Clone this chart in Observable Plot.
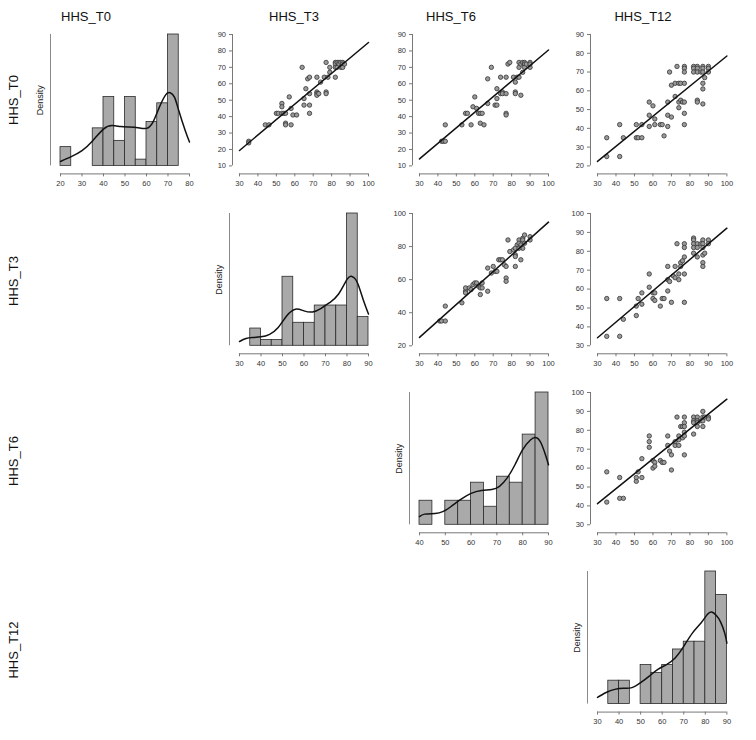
<!DOCTYPE html>
<html><head><meta charset="utf-8">
<script src="https://cdn.jsdelivr.net/npm/d3@7"></script>
<script src="https://cdn.jsdelivr.net/npm/@observablehq/plot@0.6"></script>
<style>
body{margin:0;background:#fff;}
#chart{position:relative;width:756px;height:740px;font-family:"Liberation Sans",Arial,sans-serif;overflow:hidden;}
.lbl{position:absolute;font-size:13px;color:#111;white-space:nowrap;line-height:1;}
</style></head><body><div id="chart"></div>
<script>
// ---------- data ----------
const variables = ["HHS_T0", "HHS_T3", "HHS_T6", "HHS_T12"];

// histogram bin lower edges (width 5) and counts
const binsT0 = [20, 25, 30, 35, 40, 45, 50, 55, 60, 65, 70];
const countsT0 = [3, 0, 0, 6, 11, 4, 11, 1, 7, 10, 21];
const binsT3 = [35, 40, 45, 50, 55, 60, 65, 70, 75, 80, 85];
const countsT3 = [3, 1, 1, 12, 4, 4, 7, 7, 7, 23, 5];
const binsT6 = [40, 45, 50, 55, 60, 65, 70, 75, 80, 85];
const countsT6 = [4, 0, 4, 4, 7, 3, 8, 7, 15, 22];
const binsT12 = [35, 40, 45, 50, 55, 60, 65, 70, 75, 80, 85];
const countsT12 = [3, 3, 0, 5, 4, 5, 7, 8, 8, 17, 14];
const binWidth = 5;

// kernel density curves
const densT0X = [20, 25, 30, 35, 40, 44, 48, 52, 56, 60, 63, 66, 69, 71, 73, 75, 78, 80];
const densT0Y = [0.0019, 0.0040, 0.0066, 0.0109, 0.0159, 0.0174, 0.0170, 0.0168, 0.0165, 0.0162, 0.0189, 0.0254, 0.0308, 0.0316, 0.0297, 0.0239, 0.0153, 0.0103];
const densT3X = [30, 33, 36, 40, 44, 48, 52, 56, 60, 64, 68, 72, 76, 80, 82, 84, 86, 88, 90];
const densT3Y = [0.0020, 0.0034, 0.0039, 0.0042, 0.0054, 0.0086, 0.0141, 0.0172, 0.0164, 0.0159, 0.0176, 0.0203, 0.0242, 0.0312, 0.0327, 0.0312, 0.0265, 0.0203, 0.0149];
const densT6X = [40, 42, 46, 49, 52, 56, 60, 64, 68, 71, 74, 77, 80, 83, 85, 87, 89, 90];
const densT6Y = [0.0037, 0.0048, 0.0051, 0.0059, 0.0080, 0.0114, 0.0141, 0.0154, 0.0159, 0.0173, 0.0211, 0.0270, 0.0338, 0.0381, 0.0392, 0.0370, 0.0308, 0.0270];
const densT12X = [30, 34, 38, 42, 46, 50, 54, 58, 62, 66, 70, 74, 78, 81, 83, 85, 87, 89, 90];
const densT12Y = [0.0023, 0.0040, 0.0051, 0.0055, 0.0057, 0.0074, 0.0097, 0.0120, 0.0137, 0.0160, 0.0200, 0.0246, 0.0281, 0.0311, 0.0319, 0.0308, 0.0286, 0.0246, 0.0211];

// scatter points [x (column variable), y (row variable)]
const t3_t0 = [[35,25],[35,24],[44,35],[46,35],[50,42],[51,42],[53,48],[53,46],[53,42],[54,42],[55,42],[55,36],[55,35],[57,52],[58,45],[58,35],[59,41],[61,41],[64,70],[65,51],[65,47],[66,57],[67,63],[68,64],[68,54],[68,47],[68,42],[72,64],[72,55],[72,54],[72,53],[73,54],[74,61],[76,64],[77,73],[77,55],[77,54],[78,64],[79,70],[79,67],[82,64],[82,73],[82,72],[82,70],[83,73],[83,70],[84,73],[84,72],[85,70],[85,73],[86,73],[86,72],[86,70],[87,72]];
const t6_t0 = [[42,25],[43,25],[44,25],[44,35],[53,35],[55,42],[56,42],[58,35],[59,46],[60,52],[61,45],[62,42],[63,42],[64,42],[63,36],[65,35],[67,48],[67,63],[69,70],[71,47],[72,47],[72,51],[72,57],[74,64],[74,54],[75,55],[75,54],[77,54],[77,64],[77,42],[77,41],[78,72],[79,73],[81,64],[82,61],[82,55],[82,54],[83,64],[84,64],[85,53],[84,73],[84,70],[85,72],[86,73],[86,67],[87,73],[87,72],[87,70],[88,72],[90,73],[90,70],[90,72]];
const t12_t0 = [[35,35],[35,25],[42,42],[42,25],[44,35],[51,42],[51,35],[52,35],[54,35],[54,42],[58,54],[58,47],[58,41],[60,52],[61,45],[61,42],[64,42],[65,42],[66,36],[68,41],[68,47],[68,54],[69,70],[70,46],[70,63],[72,64],[72,57],[73,73],[74,64],[74,51],[74,54],[75,55],[75,64],[76,54],[77,54],[77,64],[77,73],[77,72],[77,70],[77,48],[77,42],[82,73],[82,72],[82,70],[84,73],[84,72],[84,70],[84,55],[84,54],[86,70],[87,73],[87,72],[87,70],[87,64],[87,61],[87,53],[88,67],[90,73],[90,72],[90,70]];
const t6_t3 = [[41,35],[42,35],[44,35],[44,44],[53,46],[55,53],[55,52],[55,55],[57,55],[58,54],[59,57],[60,58],[61,58],[62,56],[63,55],[63,51],[64,55],[64,58],[67,67],[67,53],[69,64],[70,68],[71,65],[72,65],[73,72],[74,72],[75,72],[76,69],[77,68],[77,61],[77,59],[78,84],[79,77],[81,78],[82,75],[82,74],[82,68],[83,81],[84,84],[84,82],[85,81],[85,72],[86,85],[86,79],[86,84],[87,87],[87,82],[90,86],[90,84],[82,79],[84,79]];
const t12_t3 = [[35,55],[35,35],[42,55],[42,35],[44,44],[51,46],[51,51],[52,55],[54,58],[54,52],[58,68],[58,61],[60,58],[60,55],[61,58],[61,54],[64,51],[65,55],[66,55],[68,72],[68,59],[68,65],[69,64],[70,53],[71,67],[72,66],[72,72],[73,84],[74,65],[74,68],[75,74],[75,72],[76,75],[77,77],[77,68],[77,53],[77,84],[77,82],[82,87],[82,86],[82,84],[82,82],[82,79],[84,84],[84,82],[84,77],[86,84],[87,86],[87,84],[87,82],[87,78],[87,74],[87,72],[88,79],[90,86],[90,84]];
const t12_t6 = [[35,58],[35,42],[42,55],[42,44],[44,44],[51,53],[51,55],[52,58],[54,65],[54,55],[58,77],[58,74],[58,71],[60,60],[60,64],[61,63],[61,61],[64,64],[65,63],[66,63],[68,77],[68,72],[69,69],[70,67],[70,59],[72,72],[72,74],[73,87],[74,72],[74,77],[74,75],[75,82],[76,76],[76,82],[77,87],[77,84],[77,82],[77,79],[77,77],[77,67],[82,87],[82,85],[82,84],[82,78],[84,87],[84,85],[84,84],[84,82],[86,85],[87,90],[87,87],[87,85],[87,82],[88,87],[90,87],[90,86]];

// tick labels
const ticksT0Hist = [20, 30, 40, 50, 60, 70, 80];
const ticksT3Hist = [30, 40, 50, 60, 70, 80, 90];
const ticksT6Hist = [40, 50, 60, 70, 80, 90];
const ticksT12Hist = [30, 40, 50, 60, 70, 80, 90];
const ticks30to100 = [30, 40, 50, 60, 70, 80, 90, 100];
const ticks10to90 = [10, 20, 30, 40, 50, 60, 70, 80, 90];
const ticks20to90 = [20, 30, 40, 50, 60, 70, 80, 90];
const ticks20to100 = [20, 40, 60, 80, 100];

// ---------- layout ----------
const rowTop = [34.3, 212.7, 391.7, 570.7];
const rowBottom = [165.7, 345, 524, 703.3];
const colLeft = [60.3, 239.3, 418.7, 597.3];
const colRight = [189.3, 368.3, 547.7, 726.7];
const titleX = [86, 294, 451, 643];
const rowLabelY = [100, 281, 461, 650];

const chart = document.getElementById("chart");
const axisColor = "#777";
const textColor = "#333";
const baseStyle = {fontFamily: "'Liberation Sans', Arial, sans-serif", fontSize: "7.5px", background: "transparent", overflow: "visible", color: textColor};

function place(svg, L, T) {
  svg.style.position = "absolute";
  svg.style.left = L + "px";
  svg.style.top = T + "px";
  chart.appendChild(svg);
}

function frameFor(row, col, axisOffsetX) {
  const L = colLeft[col] - 42, T = rowTop[row] - 8;
  const W = colRight[col] + 10 - L, H = rowBottom[row] + 26 - T;
  const axX = colLeft[col] - axisOffsetX, axY = rowBottom[row] + 8;
  return {L, T, W, H, axX, axY,
    xr: [colLeft[col] - L, colRight[col] - L],
    yr: [rowBottom[row] - T, rowTop[row] - T]};
}
const inv = (d, r, p) => d[0] + (p - r[0]) * (d[1] - d[0]) / (r[1] - r[0]);

function ols(pts) {
  const mx = d3.mean(pts, d => d[0]), my = d3.mean(pts, d => d[1]);
  const b = d3.sum(pts, d => (d[0] - mx) * (d[1] - my)) / d3.sum(pts, d => (d[0] - mx) ** 2);
  return [my - b * mx, b];
}

function scatterPanel(row, col, pts, xTicks, yTicks) {
  const f = frameFor(row, col, 7);
  const xd = [xTicks[0], xTicks[xTicks.length - 1]];
  const yd = [yTicks[0], yTicks[yTicks.length - 1]];
  const xLine = inv(xd, f.xr, f.axX - f.L);
  const yLine = inv(yd, f.yr, f.axY - f.T);
  const [a, b] = ols(pts);
  const fit = xd.map(x => ({x, y: a + b * x}));
  const svg = Plot.plot({
    width: f.W, height: f.H,
    marginLeft: f.axX - f.L, marginRight: f.W - f.xr[1],
    marginTop: f.yr[1], marginBottom: f.H - (f.axY - f.T),
    x: {domain: xd, range: f.xr},
    y: {domain: yd, range: f.yr},
    style: baseStyle,
    marks: [
      Plot.ruleY([yLine], {x1: xd[0], x2: xd[1], stroke: axisColor, strokeWidth: 1}),
      Plot.ruleX([xLine], {y1: yd[0], y2: yd[1], stroke: axisColor, strokeWidth: 1}),
      Plot.axisX({ticks: xTicks, tickSize: 3, tickPadding: 3.5, label: null, stroke: axisColor, fill: textColor}),
      Plot.axisY({ticks: yTicks, tickSize: 3, tickPadding: 3.5, label: null, stroke: axisColor, fill: textColor}),
      Plot.dot(pts, {x: d => d[0], y: d => d[1], r: 2.2, fill: "#9a9a9a", stroke: "#333", strokeWidth: 0.8}),
      Plot.line(fit, {x: "x", y: "y", stroke: "#111", strokeWidth: 1.5})
    ]
  });
  place(svg, f.L, f.T);
}

function histPanel(row, col, bins, counts, dX, dY, xTicks) {
  const f = frameFor(row, col, 10);
  const n = d3.sum(counts);
  const bars = bins.map((lo, i) => ({x1: lo, x2: lo + binWidth, d: counts[i] / (n * binWidth)}));
  const curve = dX.map((x, i) => ({x, y: dY[i]}));
  const ymax = d3.max(bars, d => d.d);
  const xd = [xTicks[0], xTicks[xTicks.length - 1]];
  const yd = [0, ymax];
  const xLine = inv(xd, f.xr, f.axX - f.L);
  const xLabel = inv(xd, f.xr, f.axX - f.L - 10);
  const yLine = inv(yd, f.yr, f.axY - f.T);
  const svg = Plot.plot({
    width: f.W, height: f.H,
    marginLeft: f.axX - f.L, marginRight: f.W - f.xr[1],
    marginTop: f.yr[1], marginBottom: f.H - (f.axY - f.T),
    x: {domain: xd, range: f.xr},
    y: {domain: yd, range: f.yr, axis: null},
    style: baseStyle,
    marks: [
      Plot.ruleY([yLine], {x1: xd[0], x2: xd[1], stroke: axisColor, strokeWidth: 1}),
      Plot.ruleX([xLine], {y1: 0, y2: ymax, stroke: "#8a8a8a", strokeWidth: 1}),
      Plot.axisX({ticks: xTicks, tickSize: 3, tickPadding: 3.5, label: null, stroke: axisColor, fill: textColor}),
      Plot.rect(bars, {x1: "x1", x2: "x2", y1: 0, y2: "d", fill: "#a9a9a9", stroke: "#2a2a2a", strokeWidth: 0.8}),
      Plot.line(curve, {x: "x", y: "y", curve: "natural", stroke: "#111", strokeWidth: 1.5}),
      Plot.text(["Density"], {x: xLabel, y: ymax / 2, text: d => d, rotate: -90, fontSize: 9, fill: "#222"})
    ]
  });
  place(svg, f.L, f.T);
}

histPanel(0, 0, binsT0, countsT0, densT0X, densT0Y, ticksT0Hist);
histPanel(1, 1, binsT3, countsT3, densT3X, densT3Y, ticksT3Hist);
histPanel(2, 2, binsT6, countsT6, densT6X, densT6Y, ticksT6Hist);
histPanel(3, 3, binsT12, countsT12, densT12X, densT12Y, ticksT12Hist);

scatterPanel(0, 1, t3_t0, ticks30to100, ticks10to90);
scatterPanel(0, 2, t6_t0, ticks30to100, ticks10to90);
scatterPanel(0, 3, t12_t0, ticks30to100, ticks20to90);
scatterPanel(1, 2, t6_t3, ticks30to100, ticks20to100);
scatterPanel(1, 3, t12_t3, ticks30to100, ticks30to100);
scatterPanel(2, 3, t12_t6, ticks30to100, ticks30to100);

// titles and row labels
variables.forEach((v, i) => {
  const t = document.createElement("div");
  t.className = "lbl";
  t.textContent = v;
  t.style.left = titleX[i] + "px";
  t.style.top = "10px";
  t.style.transform = "translateX(-50%)";
  chart.appendChild(t);
  const r = document.createElement("div");
  r.className = "lbl";
  r.textContent = v;
  r.style.left = "13px";
  r.style.top = rowLabelY[i] + "px";
  r.style.transform = "translate(-50%,-50%) rotate(-90deg)";
  chart.appendChild(r);
});
</script></body></html>
